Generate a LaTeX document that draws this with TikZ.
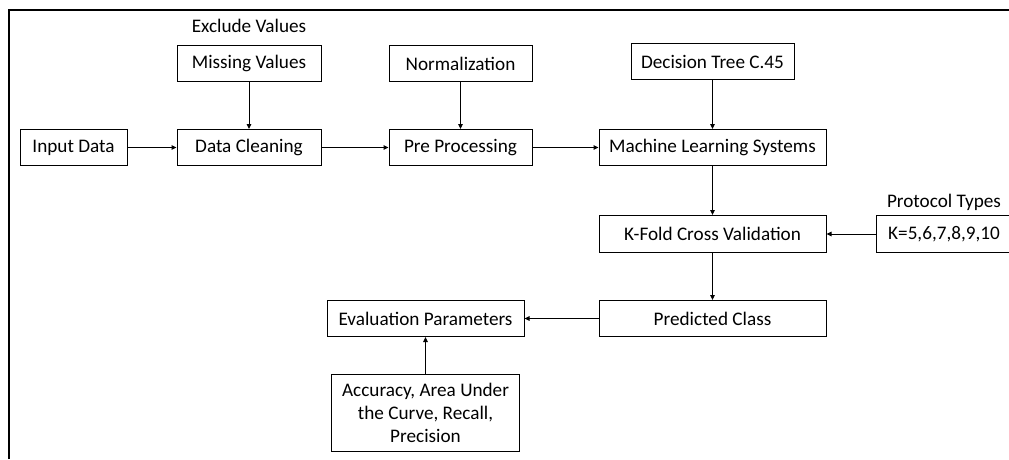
\documentclass[tikz,border=0pt]{standalone}
\usepackage{fontspec}
\setmainfont{Carlito}
\usetikzlibrary{positioning, arrows.meta}
\tikzset{->, % all connectors are directed
>={Triangle[length=5pt,width=4.5pt]}, % small solid heads
box/.style={draw, minimum height=36pt, inner sep=0pt, font=\fontsize{19.2}{23}\selectfont}, % every block
lbl/.style={inner sep=0pt, font=\fontsize{19.2}{23}\selectfont}, % free texts above blocks
every path/.style={line width=1pt},
}

\begin{document}
\begin{tikzpicture}[x=1pt, y=-1pt]
\useasboundingbox (0,0) rectangle (1009,459);
\draw[-, line width=1.8pt] (9,459) |- (1009,10);

\node[box, minimum width=107pt] (input) at (73.5,147.5) {Input Data};
\node[box, minimum width=144pt, right=49pt of input] (clean) {Data Cleaning};
\node[box, minimum width=143pt, right=67pt of clean] (pre) {Pre Processing};
\node[box, minimum width=227pt, right=66pt of pre] (mls) {Machine Learning Systems};
\node[box, minimum width=144pt, above=47pt of clean] (missing) {Missing Values};
\node[lbl, above=12pt of missing] (exclude) {Exclude Values};
\node[box, minimum width=143pt, above=47pt of pre] (norm) {Normalization};
\node[box, minimum width=163pt, above=49pt of mls] (dtree) {Decision Tree C.45};
\node[box, minimum width=227pt, minimum height=37pt, below=49pt of mls] (kfold) {K-Fold Cross Validation};
\node[box, minimum width=136pt, minimum height=37pt, right=49pt of kfold] (kvals) {K=5,6,7,8,9,10};
\node[lbl, above=4pt of kvals] (protocol) {Protocol Types};
\node[box, minimum width=227pt, below=47pt of kfold] (pred) {Predicted Class};
\node[box, minimum width=197pt, left=74pt of pred] (eval) {Evaluation Parameters};
\node[box, minimum width=188pt, minimum height=77pt, align=center, below=37pt of eval] (acc) {Accuracy, Area Under\\the Curve, Recall,\\Precision};

\draw

(input) edge (clean)
(clean) edge (pre)
(pre) edge (mls)
(missing) edge (clean)
(norm) edge (pre)
(dtree) edge (mls)
(mls) edge (kfold)
(kvals) edge (kfold)
(kfold) edge (pred)
(pred) edge (eval)
(acc) edge (eval);

\end{tikzpicture}
\end{document}
